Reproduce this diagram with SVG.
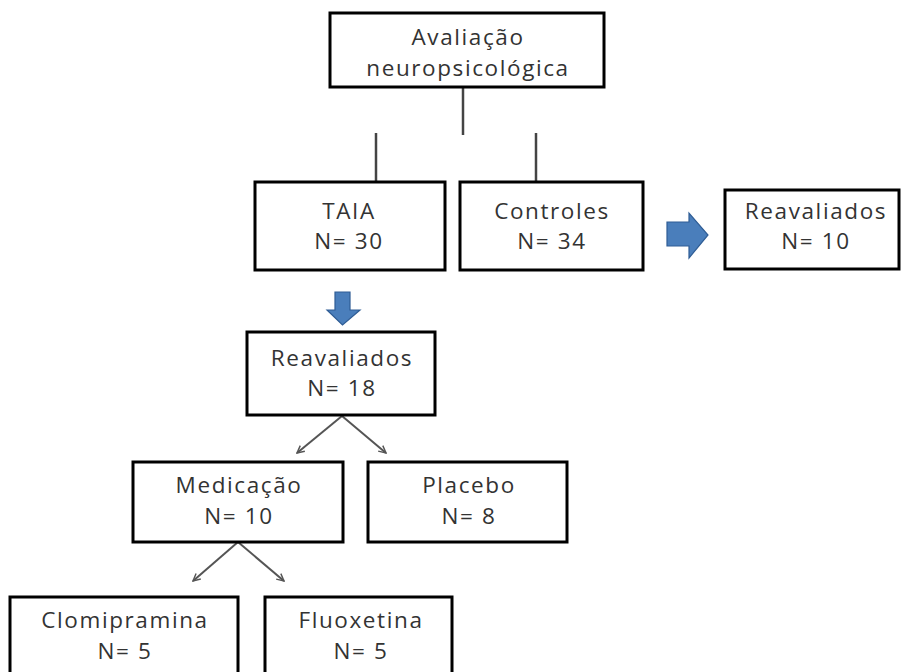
<svg xmlns="http://www.w3.org/2000/svg" width="902" height="672" viewBox="0 0 902 672">
<style>
.box{fill:#fff;stroke:#000;stroke-width:3}
.t{font-family:"Open Sans","Liberation Sans",sans-serif;font-size:22.5px;letter-spacing:1.6px;fill:#333;text-anchor:middle}
.ln{stroke:#444;stroke-width:2.5;fill:none}
.arr{stroke:#555;stroke-width:2;fill:none;marker-end:url(#ah)}
.blue{fill:#4a7ebb;stroke:#2f5d95;stroke-width:1.2}
</style>
<defs>
<marker id="ah" viewBox="0 0 10 10" refX="9" refY="5" markerWidth="9" markerHeight="9" orient="auto" markerUnits="userSpaceOnUse">
<path d="M1,1 L9,5 L1,9" fill="none" stroke="#555" stroke-width="1.6"/>
</marker>
</defs>
<rect width="902" height="672" fill="#fff"/>
<g id="connectors">
<line class="ln" x1="463" y1="87" x2="463" y2="135"/>
<line class="ln" x1="376" y1="133" x2="376" y2="182"/>
<line class="ln" x1="536" y1="133" x2="536" y2="182"/>
<line class="arr" x1="342" y1="416" x2="297" y2="453"/>
<line class="arr" x1="342" y1="416" x2="386" y2="453"/>
<line class="arr" x1="238" y1="542" x2="193" y2="581"/>
<line class="arr" x1="238" y1="542" x2="284" y2="581"/>
<path id="arrow-right" class="blue" d="M667,222 L689,222 L689,213 L708,235 L689,258 L689,246 L667,246 Z"/>
<path id="arrow-down" class="blue" d="M335,292 L350,292 L350,310 L360,310 L342.5,325 L327,310 L335,310 Z"/>
</g>
<g id="avaliacao">
<rect class="box" x="330" y="13" width="274" height="74"/>
<text class="t" x="468" y="45">Avaliação</text>
<text class="t" x="468" y="76">neuropsicológica</text>
</g>
<g id="taia">
<rect class="box" x="255" y="182" width="190" height="88"/>
<text class="t" x="349" y="219">TAIA</text>
<text class="t" x="349" y="249">N= 30</text>
</g>
<g id="controles">
<rect class="box" x="460" y="182" width="183" height="88"/>
<text class="t" x="552" y="219">Controles</text>
<text class="t" x="552" y="249">N= 34</text>
</g>
<g id="reavaliados10">
<rect class="box" x="725" y="190" width="174" height="79"/>
<text class="t" x="816" y="219">Reavaliados</text>
<text class="t" x="816" y="249">N= 10</text>
</g>
<g id="reavaliados18">
<rect class="box" x="247" y="332" width="188" height="83"/>
<text class="t" x="342" y="366">Reavaliados</text>
<text class="t" x="342" y="396">N= 18</text>
</g>
<g id="medicacao">
<rect class="box" x="133" y="462" width="210" height="80"/>
<text class="t" x="239" y="493">Medicação</text>
<text class="t" x="239" y="524">N= 10</text>
</g>
<g id="placebo">
<rect class="box" x="368" y="462" width="199" height="80"/>
<text class="t" x="469" y="493">Placebo</text>
<text class="t" x="469" y="524">N= 8</text>
</g>
<g id="clomipramina">
<rect class="box" x="10" y="597" width="228" height="90"/>
<text class="t" x="125" y="628">Clomipramina</text>
<text class="t" x="125" y="659">N= 5</text>
</g>
<g id="fluoxetina">
<rect class="box" x="265" y="597" width="187" height="90"/>
<text class="t" x="361" y="628">Fluoxetina</text>
<text class="t" x="361" y="659">N= 5</text>
</g>
</svg>
